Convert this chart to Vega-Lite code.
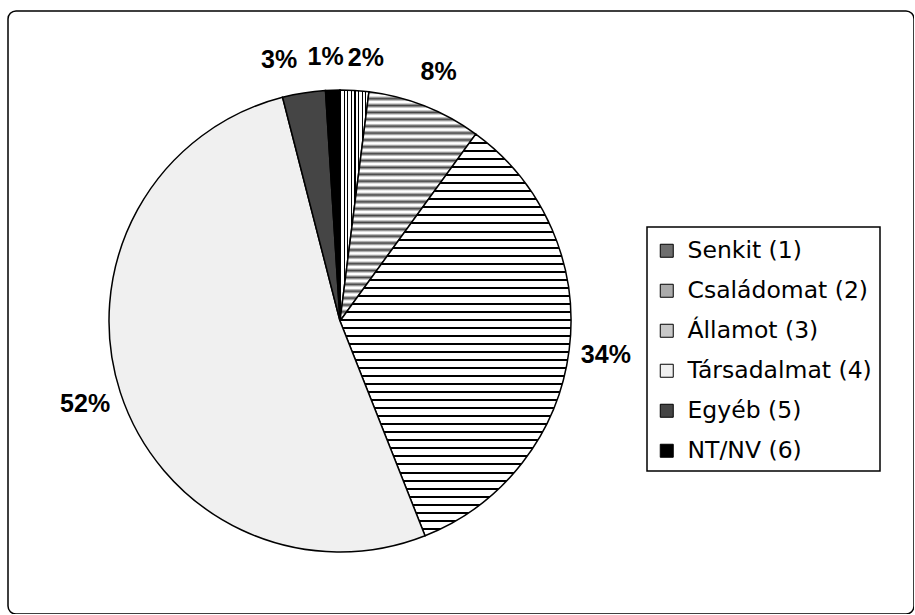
{
  "$schema": "https://vega.github.io/schema/vega-lite/v6.json",
  "width": 906,
  "height": 603,
  "autosize": "none",
  "padding": {"left": 8, "top": 11, "right": 0, "bottom": 0},
  "background": "white",
  "view": {"stroke": "black", "strokeWidth": 1.5, "cornerRadius": 8, "fill": "white"},
  "config": {
    "view": {"stroke": "black", "strokeWidth": 1.5, "cornerRadius": 8},
    "legend": {"strokeWidth": 1.5}
  },
  "data": {
    "values": [
      {"code": 1, "cat": "Senkit (1)", "pct": 2, "label": "2%"},
      {"code": 2, "cat": "Családomat (2)", "pct": 8, "label": "8%"},
      {"code": 3, "cat": "Államot (3)", "pct": 34, "label": "34%"},
      {"code": 4, "cat": "Társadalmat (4)", "pct": 52, "label": "52%"},
      {"code": 5, "cat": "Egyéb (5)", "pct": 3, "label": "3%"},
      {"code": 6, "cat": "NT/NV (6)", "pct": 1, "label": "1%"}
    ]
  },
  "encoding": {
    "theta": {"field": "pct", "type": "quantitative", "stack": true},
    "order": {"field": "code", "type": "quantitative"}
  },
  "layer": [
    {
      "mark": {"type": "arc", "x": 332, "y": 310, "outerRadius": 231, "stroke": "black", "strokeWidth": 1.5},
      "encoding": {
        "fill": {
          "field": "cat",
          "type": "nominal",
          "scale": {
            "domain": ["Senkit (1)", "Családomat (2)", "Államot (3)", "Társadalmat (4)", "Egyéb (5)", "NT/NV (6)"],
            "range": ["#6e6e6e", "#ababab", "#c8c8c8", "#f0f0f0", "#454545", "#000000"]
          },
          "legend": {
            "orient": "none",
            "legendX": 639,
            "legendY": 216,
            "title": " ",
            "titleFontSize": 1,
            "titlePadding": 3,
            "symbolType": "square",
            "symbolSize": 169,
            "symbolStrokeColor": "black",
            "symbolStrokeWidth": 1,
            "labelFont": "DejaVu Sans",
            "labelFontSize": 23.5,
            "labelColor": "black",
            "labelLimit": 400,
            "labelOffset": 9,
            "rowPadding": 15,
            "padding": 8,
            "strokeColor": "black",
            "fillColor": "white"
          },
          "condition": [
            {
              "test": "datum.code === 3",
              "value": {
                "gradient": "linear", "x1": 0, "y1": 0, "x2": 0, "y2": 1,
                "stops": [
{"offset":0,"color":"#000"},{"offset":0.005,"color":"#000"},{"offset":0.005,"color":"#fff"},{"offset":0.02,"color":"#fff"},
{"offset":0.02,"color":"#000"},{"offset":0.025,"color":"#000"},{"offset":0.025,"color":"#fff"},{"offset":0.04,"color":"#fff"},
{"offset":0.04,"color":"#000"},{"offset":0.045,"color":"#000"},{"offset":0.045,"color":"#fff"},{"offset":0.06,"color":"#fff"},
{"offset":0.06,"color":"#000"},{"offset":0.065,"color":"#000"},{"offset":0.065,"color":"#fff"},{"offset":0.08,"color":"#fff"},
{"offset":0.08,"color":"#000"},{"offset":0.085,"color":"#000"},{"offset":0.085,"color":"#fff"},{"offset":0.1,"color":"#fff"},
{"offset":0.1,"color":"#000"},{"offset":0.105,"color":"#000"},{"offset":0.105,"color":"#fff"},{"offset":0.12,"color":"#fff"},
{"offset":0.12,"color":"#000"},{"offset":0.125,"color":"#000"},{"offset":0.125,"color":"#fff"},{"offset":0.14,"color":"#fff"},
{"offset":0.14,"color":"#000"},{"offset":0.145,"color":"#000"},{"offset":0.145,"color":"#fff"},{"offset":0.16,"color":"#fff"},
{"offset":0.16,"color":"#000"},{"offset":0.165,"color":"#000"},{"offset":0.165,"color":"#fff"},{"offset":0.18,"color":"#fff"},
{"offset":0.18,"color":"#000"},{"offset":0.185,"color":"#000"},{"offset":0.185,"color":"#fff"},{"offset":0.2,"color":"#fff"},
{"offset":0.2,"color":"#000"},{"offset":0.205,"color":"#000"},{"offset":0.205,"color":"#fff"},{"offset":0.22,"color":"#fff"},
{"offset":0.22,"color":"#000"},{"offset":0.225,"color":"#000"},{"offset":0.225,"color":"#fff"},{"offset":0.24,"color":"#fff"},
{"offset":0.24,"color":"#000"},{"offset":0.245,"color":"#000"},{"offset":0.245,"color":"#fff"},{"offset":0.26,"color":"#fff"},
{"offset":0.26,"color":"#000"},{"offset":0.265,"color":"#000"},{"offset":0.265,"color":"#fff"},{"offset":0.28,"color":"#fff"},
{"offset":0.28,"color":"#000"},{"offset":0.285,"color":"#000"},{"offset":0.285,"color":"#fff"},{"offset":0.3,"color":"#fff"},
{"offset":0.3,"color":"#000"},{"offset":0.305,"color":"#000"},{"offset":0.305,"color":"#fff"},{"offset":0.32,"color":"#fff"},
{"offset":0.32,"color":"#000"},{"offset":0.325,"color":"#000"},{"offset":0.325,"color":"#fff"},{"offset":0.34,"color":"#fff"},
{"offset":0.34,"color":"#000"},{"offset":0.345,"color":"#000"},{"offset":0.345,"color":"#fff"},{"offset":0.36,"color":"#fff"},
{"offset":0.36,"color":"#000"},{"offset":0.365,"color":"#000"},{"offset":0.365,"color":"#fff"},{"offset":0.38,"color":"#fff"},
{"offset":0.38,"color":"#000"},{"offset":0.385,"color":"#000"},{"offset":0.385,"color":"#fff"},{"offset":0.4,"color":"#fff"},
{"offset":0.4,"color":"#000"},{"offset":0.405,"color":"#000"},{"offset":0.405,"color":"#fff"},{"offset":0.42,"color":"#fff"},
{"offset":0.42,"color":"#000"},{"offset":0.425,"color":"#000"},{"offset":0.425,"color":"#fff"},{"offset":0.44,"color":"#fff"},
{"offset":0.44,"color":"#000"},{"offset":0.445,"color":"#000"},{"offset":0.445,"color":"#fff"},{"offset":0.46,"color":"#fff"},
{"offset":0.46,"color":"#000"},{"offset":0.465,"color":"#000"},{"offset":0.465,"color":"#fff"},{"offset":0.48,"color":"#fff"},
{"offset":0.48,"color":"#000"},{"offset":0.485,"color":"#000"},{"offset":0.485,"color":"#fff"},{"offset":0.5,"color":"#fff"},
{"offset":0.5,"color":"#000"},{"offset":0.505,"color":"#000"},{"offset":0.505,"color":"#fff"},{"offset":0.52,"color":"#fff"},
{"offset":0.52,"color":"#000"},{"offset":0.525,"color":"#000"},{"offset":0.525,"color":"#fff"},{"offset":0.54,"color":"#fff"},
{"offset":0.54,"color":"#000"},{"offset":0.545,"color":"#000"},{"offset":0.545,"color":"#fff"},{"offset":0.56,"color":"#fff"},
{"offset":0.56,"color":"#000"},{"offset":0.565,"color":"#000"},{"offset":0.565,"color":"#fff"},{"offset":0.58,"color":"#fff"},
{"offset":0.58,"color":"#000"},{"offset":0.585,"color":"#000"},{"offset":0.585,"color":"#fff"},{"offset":0.6,"color":"#fff"},
{"offset":0.6,"color":"#000"},{"offset":0.605,"color":"#000"},{"offset":0.605,"color":"#fff"},{"offset":0.62,"color":"#fff"},
{"offset":0.62,"color":"#000"},{"offset":0.625,"color":"#000"},{"offset":0.625,"color":"#fff"},{"offset":0.64,"color":"#fff"},
{"offset":0.64,"color":"#000"},{"offset":0.645,"color":"#000"},{"offset":0.645,"color":"#fff"},{"offset":0.66,"color":"#fff"},
{"offset":0.66,"color":"#000"},{"offset":0.665,"color":"#000"},{"offset":0.665,"color":"#fff"},{"offset":0.68,"color":"#fff"},
{"offset":0.68,"color":"#000"},{"offset":0.685,"color":"#000"},{"offset":0.685,"color":"#fff"},{"offset":0.7,"color":"#fff"},
{"offset":0.7,"color":"#000"},{"offset":0.705,"color":"#000"},{"offset":0.705,"color":"#fff"},{"offset":0.72,"color":"#fff"},
{"offset":0.72,"color":"#000"},{"offset":0.725,"color":"#000"},{"offset":0.725,"color":"#fff"},{"offset":0.74,"color":"#fff"},
{"offset":0.74,"color":"#000"},{"offset":0.745,"color":"#000"},{"offset":0.745,"color":"#fff"},{"offset":0.76,"color":"#fff"},
{"offset":0.76,"color":"#000"},{"offset":0.765,"color":"#000"},{"offset":0.765,"color":"#fff"},{"offset":0.78,"color":"#fff"},
{"offset":0.78,"color":"#000"},{"offset":0.785,"color":"#000"},{"offset":0.785,"color":"#fff"},{"offset":0.8,"color":"#fff"},
{"offset":0.8,"color":"#000"},{"offset":0.805,"color":"#000"},{"offset":0.805,"color":"#fff"},{"offset":0.82,"color":"#fff"},
{"offset":0.82,"color":"#000"},{"offset":0.825,"color":"#000"},{"offset":0.825,"color":"#fff"},{"offset":0.84,"color":"#fff"},
{"offset":0.84,"color":"#000"},{"offset":0.845,"color":"#000"},{"offset":0.845,"color":"#fff"},{"offset":0.86,"color":"#fff"},
{"offset":0.86,"color":"#000"},{"offset":0.865,"color":"#000"},{"offset":0.865,"color":"#fff"},{"offset":0.88,"color":"#fff"},
{"offset":0.88,"color":"#000"},{"offset":0.885,"color":"#000"},{"offset":0.885,"color":"#fff"},{"offset":0.9,"color":"#fff"},
{"offset":0.9,"color":"#000"},{"offset":0.905,"color":"#000"},{"offset":0.905,"color":"#fff"},{"offset":0.92,"color":"#fff"},
{"offset":0.92,"color":"#000"},{"offset":0.925,"color":"#000"},{"offset":0.925,"color":"#fff"},{"offset":0.94,"color":"#fff"},
{"offset":0.94,"color":"#000"},{"offset":0.945,"color":"#000"},{"offset":0.945,"color":"#fff"},{"offset":0.96,"color":"#fff"},
{"offset":0.96,"color":"#000"},{"offset":0.965,"color":"#000"},{"offset":0.965,"color":"#fff"},{"offset":0.98,"color":"#fff"},
{"offset":0.98,"color":"#000"},{"offset":0.985,"color":"#000"},{"offset":0.985,"color":"#fff"},{"offset":1,"color":"#fff"}
                ]
              }
            },
            {
              "test": "datum.code === 1",
              "value": {
                "gradient": "linear", "x1": 0, "y1": 0, "x2": 1, "y2": 0,
                "stops": [
{"offset":0,"color":"#000"},{"offset":0.04,"color":"#000"},{"offset":0.04,"color":"#fff"},{"offset":0.125,"color":"#fff"},
{"offset":0.125,"color":"#000"},{"offset":0.165,"color":"#000"},{"offset":0.165,"color":"#fff"},{"offset":0.25,"color":"#fff"},
{"offset":0.25,"color":"#000"},{"offset":0.29,"color":"#000"},{"offset":0.29,"color":"#fff"},{"offset":0.375,"color":"#fff"},
{"offset":0.375,"color":"#000"},{"offset":0.415,"color":"#000"},{"offset":0.415,"color":"#fff"},{"offset":0.5,"color":"#fff"},
{"offset":0.5,"color":"#000"},{"offset":0.54,"color":"#000"},{"offset":0.54,"color":"#fff"},{"offset":0.625,"color":"#fff"},
{"offset":0.625,"color":"#000"},{"offset":0.665,"color":"#000"},{"offset":0.665,"color":"#fff"},{"offset":0.75,"color":"#fff"},
{"offset":0.75,"color":"#000"},{"offset":0.79,"color":"#000"},{"offset":0.79,"color":"#fff"},{"offset":0.875,"color":"#fff"},
{"offset":0.875,"color":"#000"},{"offset":0.915,"color":"#000"},{"offset":0.915,"color":"#fff"},{"offset":1,"color":"#fff"}
                ]
              }
            },
            {
              "test": "datum.code === 2",
              "value": {
                "gradient": "linear", "x1": 0, "y1": 0, "x2": 0, "y2": 1,
                "stops": [
{"offset":0,"color":"#444"},{"offset":0.012,"color":"#fff"},{"offset":0.018,"color":"#fff"},
{"offset":0.03,"color":"#444"},{"offset":0.042,"color":"#fff"},{"offset":0.048,"color":"#fff"},
{"offset":0.06,"color":"#444"},{"offset":0.072,"color":"#fff"},{"offset":0.078,"color":"#fff"},
{"offset":0.09,"color":"#444"},{"offset":0.102,"color":"#fff"},{"offset":0.108,"color":"#fff"},
{"offset":0.12,"color":"#444"},{"offset":0.132,"color":"#fff"},{"offset":0.138,"color":"#fff"},
{"offset":0.15,"color":"#444"},{"offset":0.162,"color":"#fff"},{"offset":0.168,"color":"#fff"},
{"offset":0.18,"color":"#444"},{"offset":0.192,"color":"#fff"},{"offset":0.198,"color":"#fff"},
{"offset":0.21,"color":"#444"},{"offset":0.222,"color":"#fff"},{"offset":0.228,"color":"#fff"},
{"offset":0.24,"color":"#444"},{"offset":0.252,"color":"#fff"},{"offset":0.258,"color":"#fff"},
{"offset":0.27,"color":"#444"},{"offset":0.282,"color":"#fff"},{"offset":0.288,"color":"#fff"},
{"offset":0.3,"color":"#444"},{"offset":0.312,"color":"#fff"},{"offset":0.318,"color":"#fff"},
{"offset":0.33,"color":"#444"},{"offset":0.342,"color":"#fff"},{"offset":0.348,"color":"#fff"},
{"offset":0.36,"color":"#444"},{"offset":0.372,"color":"#fff"},{"offset":0.378,"color":"#fff"},
{"offset":0.39,"color":"#444"},{"offset":0.402,"color":"#fff"},{"offset":0.408,"color":"#fff"},
{"offset":0.42,"color":"#444"},{"offset":0.432,"color":"#fff"},{"offset":0.438,"color":"#fff"},
{"offset":0.45,"color":"#444"},{"offset":0.462,"color":"#fff"},{"offset":0.468,"color":"#fff"},
{"offset":0.48,"color":"#444"},{"offset":0.492,"color":"#fff"},{"offset":0.498,"color":"#fff"},
{"offset":0.51,"color":"#444"},{"offset":0.522,"color":"#fff"},{"offset":0.528,"color":"#fff"},
{"offset":0.54,"color":"#444"},{"offset":0.552,"color":"#fff"},{"offset":0.558,"color":"#fff"},
{"offset":0.57,"color":"#444"},{"offset":0.582,"color":"#fff"},{"offset":0.588,"color":"#fff"},
{"offset":0.6,"color":"#444"},{"offset":0.612,"color":"#fff"},{"offset":0.618,"color":"#fff"},
{"offset":0.63,"color":"#444"},{"offset":0.642,"color":"#fff"},{"offset":0.648,"color":"#fff"},
{"offset":0.66,"color":"#444"},{"offset":0.672,"color":"#fff"},{"offset":0.678,"color":"#fff"},
{"offset":0.69,"color":"#444"},{"offset":0.702,"color":"#fff"},{"offset":0.708,"color":"#fff"},
{"offset":0.72,"color":"#444"},{"offset":0.732,"color":"#fff"},{"offset":0.738,"color":"#fff"},
{"offset":0.75,"color":"#444"},{"offset":0.762,"color":"#fff"},{"offset":0.768,"color":"#fff"},
{"offset":0.78,"color":"#444"},{"offset":0.792,"color":"#fff"},{"offset":0.798,"color":"#fff"},
{"offset":0.81,"color":"#444"},{"offset":0.822,"color":"#fff"},{"offset":0.828,"color":"#fff"},
{"offset":0.84,"color":"#444"},{"offset":0.852,"color":"#fff"},{"offset":0.858,"color":"#fff"},
{"offset":0.87,"color":"#444"},{"offset":0.882,"color":"#fff"},{"offset":0.888,"color":"#fff"},
{"offset":0.9,"color":"#444"},{"offset":0.912,"color":"#fff"},{"offset":0.918,"color":"#fff"},
{"offset":0.93,"color":"#444"},{"offset":0.942,"color":"#fff"},{"offset":0.948,"color":"#fff"},
{"offset":0.96,"color":"#444"},{"offset":0.972,"color":"#fff"},{"offset":0.978,"color":"#fff"},
{"offset":0.99,"color":"#444"},{"offset":1,"color":"#ddd"}
                ]
              }
            }
          ]
        }
      }
    },
    {
      "mark": {"type": "text", "x": 332, "y": 310, "radius": 268, "font": "Liberation Sans", "fontWeight": "bold", "fontSize": 25, "fill": "black", "align": "center", "baseline": "middle"},
      "encoding": {
        "text": {"condition": {"test": "datum.code >= 2 && datum.code <= 4", "field": "label"}, "value": ""}
      }
    },
    {
      "mark": {"type": "text", "x": 332, "y": 310, "radius": 268, "dx": -19, "dy": 4, "font": "Liberation Sans", "fontWeight": "bold", "fontSize": 25, "fill": "black", "align": "center", "baseline": "middle"},
      "encoding": {
        "text": {"condition": {"test": "datum.code === 5", "field": "label"}, "value": ""}
      }
    },
    {
      "mark": {"type": "text", "x": 332, "y": 310, "radius": 268, "dx": -6, "dy": 4, "font": "Liberation Sans", "fontWeight": "bold", "fontSize": 25, "fill": "black", "align": "center", "baseline": "middle"},
      "encoding": {
        "text": {"condition": {"test": "datum.code === 6", "field": "label"}, "value": ""}
      }
    },
    {
      "mark": {"type": "text", "x": 332, "y": 310, "radius": 268, "dx": 9, "dy": 4, "font": "Liberation Sans", "fontWeight": "bold", "fontSize": 25, "fill": "black", "align": "center", "baseline": "middle"},
      "encoding": {
        "text": {"condition": {"test": "datum.code === 1", "field": "label"}, "value": ""}
      }
    }
  ]
}
